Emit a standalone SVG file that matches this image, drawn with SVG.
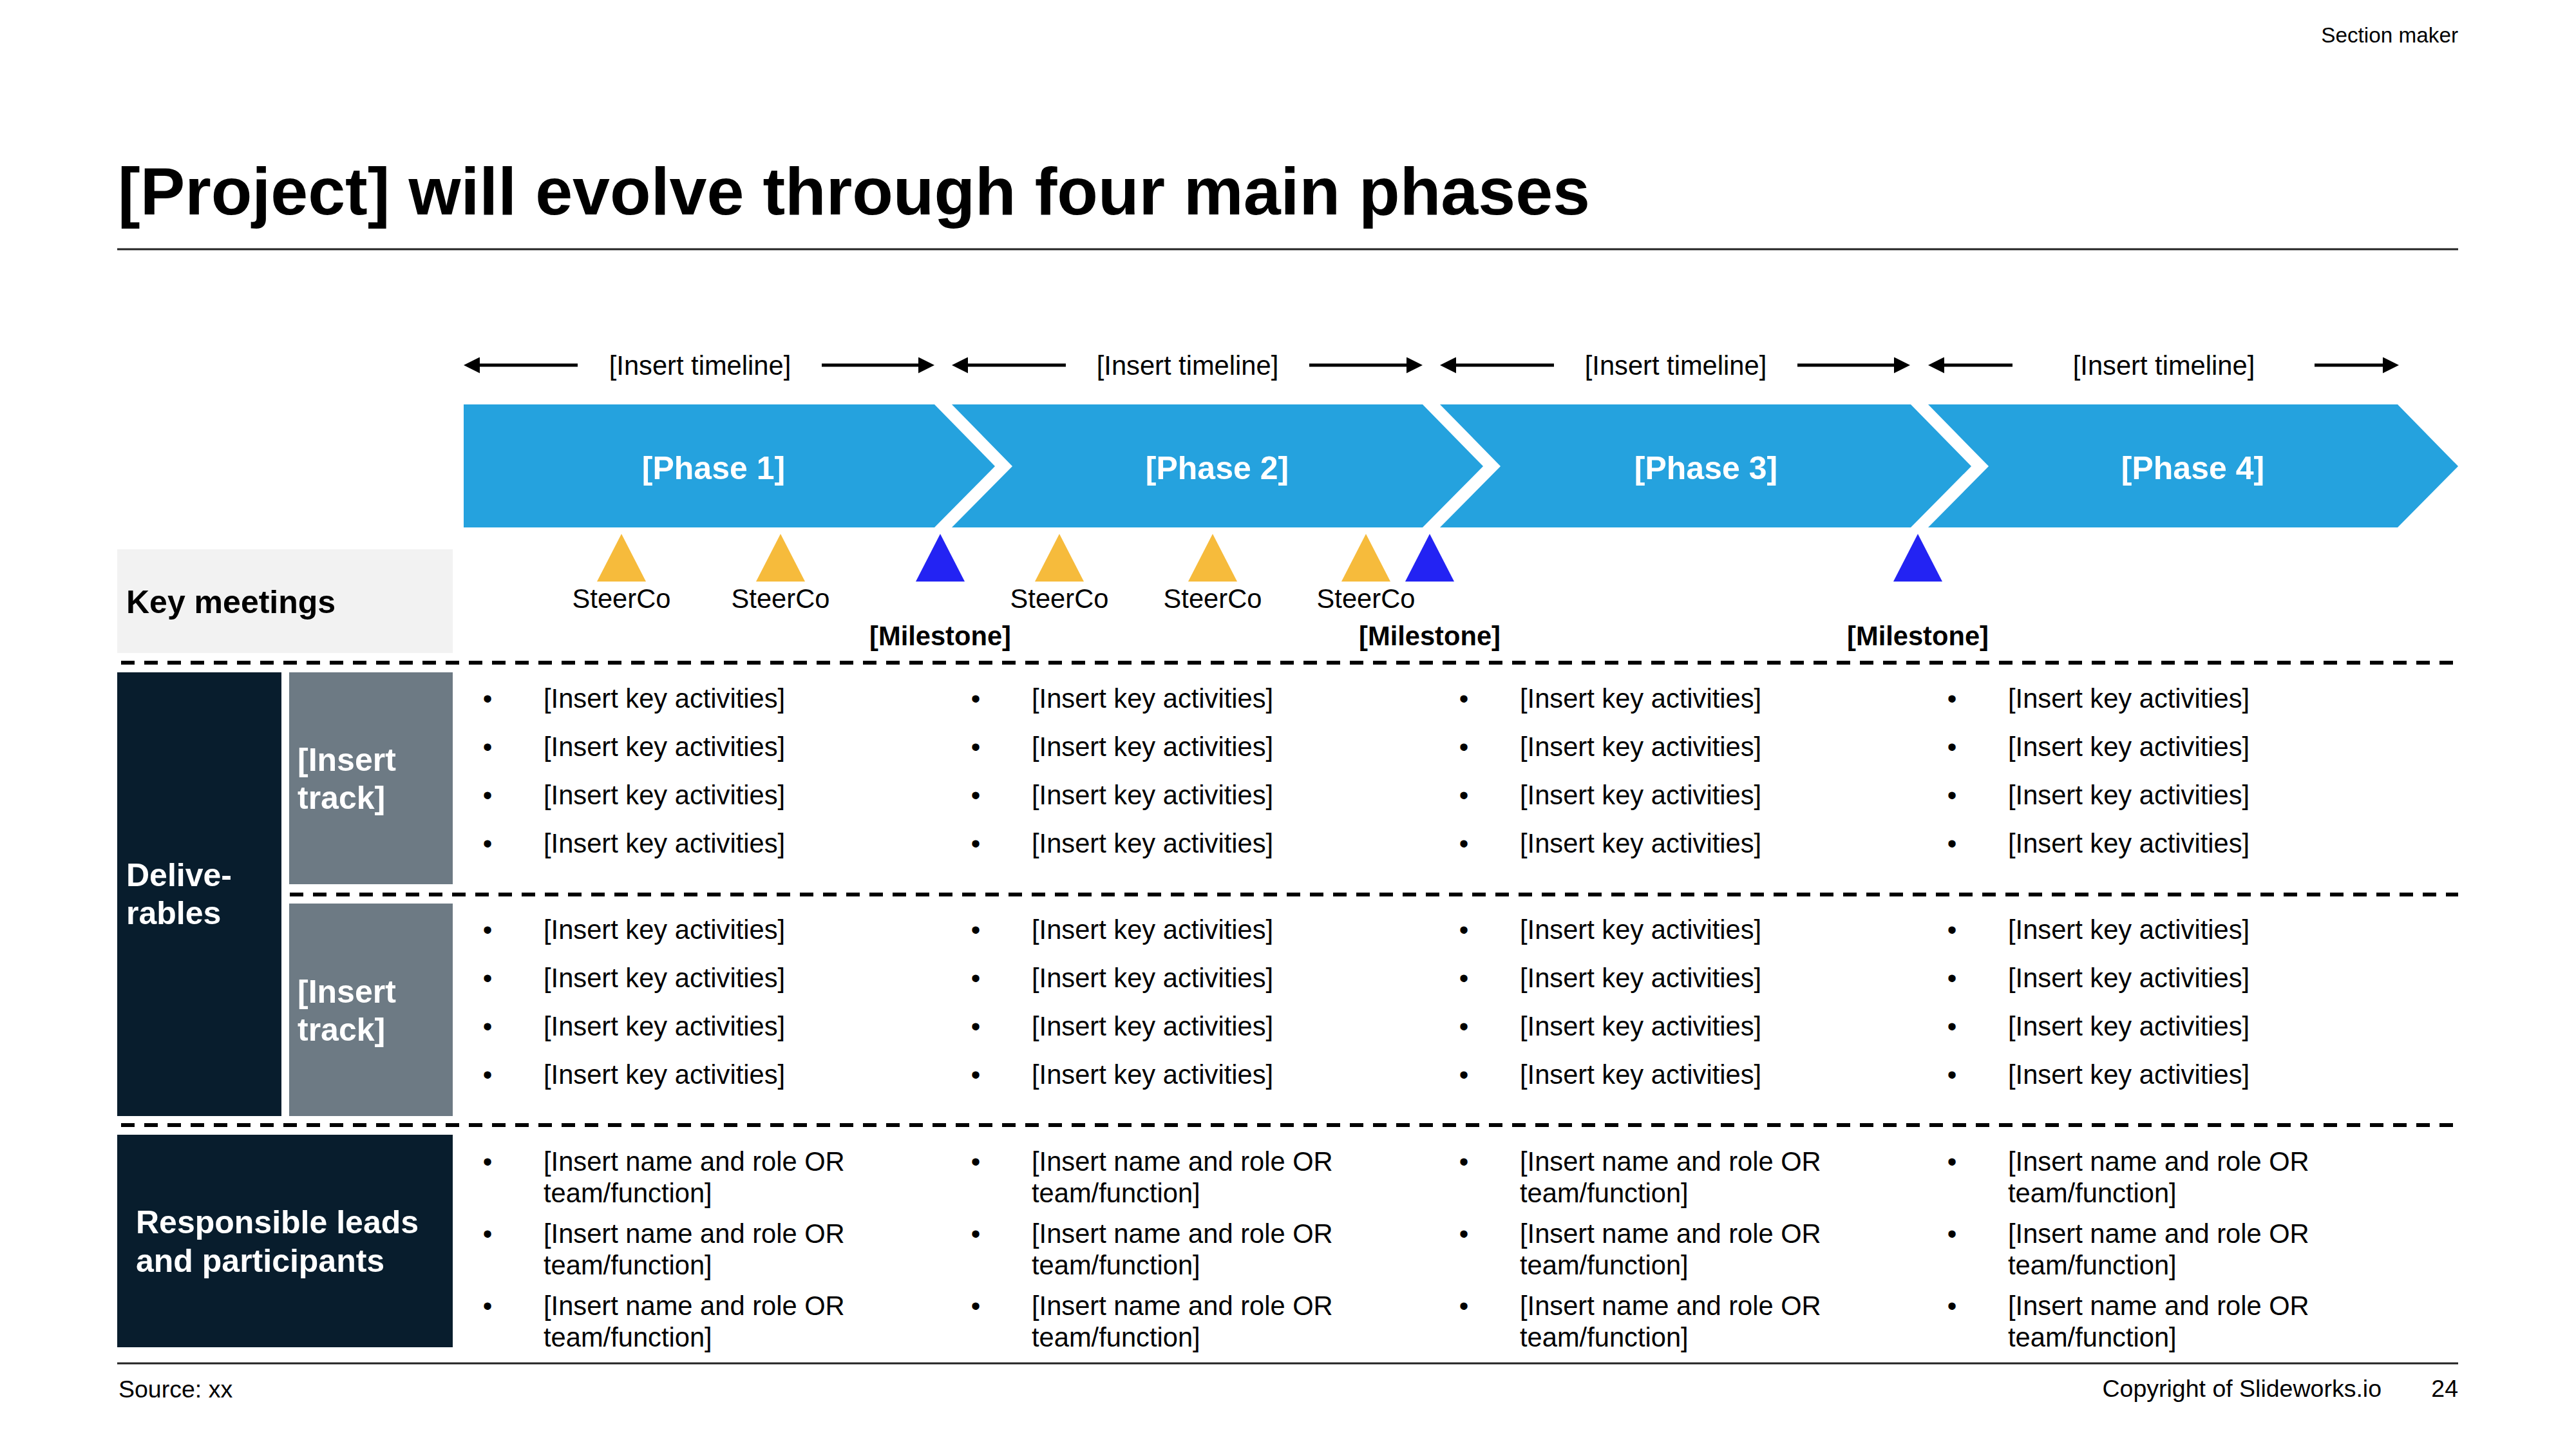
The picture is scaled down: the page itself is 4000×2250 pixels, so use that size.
<svg xmlns="http://www.w3.org/2000/svg" width="4000" height="2250" viewBox="0 0 4000 2250">
<defs>
<style>
text{font-family:"Liberation Sans",Arial,sans-serif;fill:#000}
.b{font-weight:bold}
.w{fill:#fff}
.t40{font-size:41.67px}
.t48{font-size:50px}
.mid{text-anchor:middle}
.end{text-anchor:end}
.phase{fill:#25A2DE}
.steer{fill:#F6BB3C}
.mile{fill:#2323F3}
.dash{stroke:#000;stroke-width:6;stroke-dasharray:21 15;fill:none}
.rule{stroke:#222;stroke-width:3;fill:none}
.arr{stroke:#000;stroke-width:5;fill:none;marker-end:url(#ah)}
</style>
<marker id="ah" viewBox="0 0 25 25" refX="5" refY="12.5" markerWidth="25" markerHeight="25" markerUnits="userSpaceOnUse" orient="auto">
<path d="M0,0 L25,12.5 L0,25 Z" fill="#000"/>
</marker>
</defs>
<rect width="4000" height="2250" fill="#fff"/>

<text x="3817" y="66" class="end" style="font-size:33.3px">Section maker</text>
<text x="183" y="333" class="b" style="font-size:104.17px">[Project] will evolve through four main phases</text>
<line x1="182" y1="387" x2="3817" y2="387" class="rule"/>

<g id="connectors">
<line x1="897" y1="567" x2="740" y2="567" class="arr"/>
<line x1="1276" y1="567" x2="1431" y2="567" class="arr"/>
<line x1="1655" y1="567" x2="1498" y2="567" class="arr"/>
<line x1="2033" y1="567" x2="2189" y2="567" class="arr"/>
<line x1="2413" y1="567" x2="2256" y2="567" class="arr"/>
<line x1="2791" y1="567" x2="2946" y2="567" class="arr"/>
<line x1="3125" y1="567" x2="3014" y2="567" class="arr"/>
<line x1="3594" y1="567" x2="3705" y2="567" class="arr"/>
</g>

<g id="timelines">
<text x="1087" y="582" class="mid t40">[Insert timeline]</text>
<text x="1844" y="582" class="mid t40">[Insert timeline]</text>
<text x="2602" y="582" class="mid t40">[Insert timeline]</text>
<text x="3360" y="582" class="mid t40">[Insert timeline]</text>
</g>

<g id="phase1">
<path class="phase" d="M720,628 L1451,628 L1545,724 L1451,819 L720,819 Z"/>
<text x="1108" y="744" class="b w t48 mid">[Phase 1]</text>
</g>
<g id="phase2">
<path class="phase" d="M1478,628 L2209,628 L2303,724 L2209,819 L1478,819 L1572,724 Z"/>
<text x="1890" y="744" class="b w t48 mid">[Phase 2]</text>
</g>
<g id="phase3">
<path class="phase" d="M2236,628 L2967,628 L3061,724 L2967,819 L2236,819 L2330,724 Z"/>
<text x="2649" y="744" class="b w t48 mid">[Phase 3]</text>
</g>
<g id="phase4">
<path class="phase" d="M2994,628 L3723,628 L3817,724 L3723,819 L2994,819 L3088,724 Z"/>
<text x="3405" y="744" class="b w t48 mid">[Phase 4]</text>
</g>

<g id="key-meetings">
<rect x="182" y="853" width="521" height="161" fill="#F2F2F2"/>
<text x="196" y="952" class="b t48">Key meetings</text>
</g>

<g id="meetings">
<path class="steer" d="M965,829 L1003,903 L927,903 Z"/>
<path class="steer" d="M1212,829 L1250,903 L1174,903 Z"/>
<path class="mile" d="M1460,829 L1498,903 L1422,903 Z"/>
<path class="steer" d="M1645,829 L1683,903 L1607,903 Z"/>
<path class="steer" d="M1883,829 L1921,903 L1845,903 Z"/>
<path class="steer" d="M2121,829 L2159,903 L2083,903 Z"/>
<path class="mile" d="M2220,829 L2258,903 L2182,903 Z"/>
<path class="mile" d="M2978,829 L3016,903 L2940,903 Z"/>
<text x="965" y="944" class="mid t40">SteerCo</text>
<text x="1212" y="944" class="mid t40">SteerCo</text>
<text x="1645" y="944" class="mid t40">SteerCo</text>
<text x="1883" y="944" class="mid t40">SteerCo</text>
<text x="2121" y="944" class="mid t40">SteerCo</text>
<text x="1460" y="1002" class="mid b t40">[Milestone]</text>
<text x="2220" y="1002" class="mid b t40">[Milestone]</text>
<text x="2978" y="1002" class="mid b t40">[Milestone]</text>
</g>

<g id="separators">
<line x1="188" y1="1029" x2="3817" y2="1029" class="dash"/>
<line x1="450" y1="1389" x2="3817" y2="1389" class="dash"/>
<line x1="188" y1="1747" x2="3817" y2="1747" class="dash"/>
</g>

<g id="deliverables">
<rect x="182" y="1044" width="255" height="689" fill="#081D2D"/>
<text x="196" y="1376" class="b w t48">Delive-</text>
<text x="196" y="1435" class="b w t48">rables</text>
</g>
<g id="track1">
<rect x="449" y="1044" width="254" height="329" fill="#6D7A84"/>
<text x="462" y="1197" class="b w t48">[Insert</text>
<text x="462" y="1256" class="b w t48">track]</text>
</g>
<g id="track2">
<rect x="449" y="1403" width="254" height="330" fill="#6D7A84"/>
<text x="462" y="1557" class="b w t48">[Insert</text>
<text x="462" y="1616" class="b w t48">track]</text>
</g>
<g id="responsible">
<rect x="182" y="1762" width="521" height="330" fill="#081D2D"/>
<text x="211" y="1915" class="b w t48">Responsible leads</text>
<text x="211" y="1975" class="b w t48">and participants</text>
</g>

<g id="activities">
<g id="col1">
<text x="757" y="1099" class="mid t40">•</text><text x="844" y="1099" class="t40">[Insert key activities]</text>
<text x="757" y="1174" class="mid t40">•</text><text x="844" y="1174" class="t40">[Insert key activities]</text>
<text x="757" y="1249" class="mid t40">•</text><text x="844" y="1249" class="t40">[Insert key activities]</text>
<text x="757" y="1324" class="mid t40">•</text><text x="844" y="1324" class="t40">[Insert key activities]</text>
<text x="757" y="1458" class="mid t40">•</text><text x="844" y="1458" class="t40">[Insert key activities]</text>
<text x="757" y="1533" class="mid t40">•</text><text x="844" y="1533" class="t40">[Insert key activities]</text>
<text x="757" y="1608" class="mid t40">•</text><text x="844" y="1608" class="t40">[Insert key activities]</text>
<text x="757" y="1683" class="mid t40">•</text><text x="844" y="1683" class="t40">[Insert key activities]</text>
<text x="757" y="1818" class="mid t40">•</text><text x="844" y="1818" class="t40">[Insert name and role OR</text><text x="844" y="1867" class="t40">team/function]</text>
<text x="757" y="1930" class="mid t40">•</text><text x="844" y="1930" class="t40">[Insert name and role OR</text><text x="844" y="1979" class="t40">team/function]</text>
<text x="757" y="2042" class="mid t40">•</text><text x="844" y="2042" class="t40">[Insert name and role OR</text><text x="844" y="2091" class="t40">team/function]</text>
</g>
<g id="col2">
<text x="1515" y="1099" class="mid t40">•</text><text x="1602" y="1099" class="t40">[Insert key activities]</text>
<text x="1515" y="1174" class="mid t40">•</text><text x="1602" y="1174" class="t40">[Insert key activities]</text>
<text x="1515" y="1249" class="mid t40">•</text><text x="1602" y="1249" class="t40">[Insert key activities]</text>
<text x="1515" y="1324" class="mid t40">•</text><text x="1602" y="1324" class="t40">[Insert key activities]</text>
<text x="1515" y="1458" class="mid t40">•</text><text x="1602" y="1458" class="t40">[Insert key activities]</text>
<text x="1515" y="1533" class="mid t40">•</text><text x="1602" y="1533" class="t40">[Insert key activities]</text>
<text x="1515" y="1608" class="mid t40">•</text><text x="1602" y="1608" class="t40">[Insert key activities]</text>
<text x="1515" y="1683" class="mid t40">•</text><text x="1602" y="1683" class="t40">[Insert key activities]</text>
<text x="1515" y="1818" class="mid t40">•</text><text x="1602" y="1818" class="t40">[Insert name and role OR</text><text x="1602" y="1867" class="t40">team/function]</text>
<text x="1515" y="1930" class="mid t40">•</text><text x="1602" y="1930" class="t40">[Insert name and role OR</text><text x="1602" y="1979" class="t40">team/function]</text>
<text x="1515" y="2042" class="mid t40">•</text><text x="1602" y="2042" class="t40">[Insert name and role OR</text><text x="1602" y="2091" class="t40">team/function]</text>
</g>
<g id="col3">
<text x="2273" y="1099" class="mid t40">•</text><text x="2360" y="1099" class="t40">[Insert key activities]</text>
<text x="2273" y="1174" class="mid t40">•</text><text x="2360" y="1174" class="t40">[Insert key activities]</text>
<text x="2273" y="1249" class="mid t40">•</text><text x="2360" y="1249" class="t40">[Insert key activities]</text>
<text x="2273" y="1324" class="mid t40">•</text><text x="2360" y="1324" class="t40">[Insert key activities]</text>
<text x="2273" y="1458" class="mid t40">•</text><text x="2360" y="1458" class="t40">[Insert key activities]</text>
<text x="2273" y="1533" class="mid t40">•</text><text x="2360" y="1533" class="t40">[Insert key activities]</text>
<text x="2273" y="1608" class="mid t40">•</text><text x="2360" y="1608" class="t40">[Insert key activities]</text>
<text x="2273" y="1683" class="mid t40">•</text><text x="2360" y="1683" class="t40">[Insert key activities]</text>
<text x="2273" y="1818" class="mid t40">•</text><text x="2360" y="1818" class="t40">[Insert name and role OR</text><text x="2360" y="1867" class="t40">team/function]</text>
<text x="2273" y="1930" class="mid t40">•</text><text x="2360" y="1930" class="t40">[Insert name and role OR</text><text x="2360" y="1979" class="t40">team/function]</text>
<text x="2273" y="2042" class="mid t40">•</text><text x="2360" y="2042" class="t40">[Insert name and role OR</text><text x="2360" y="2091" class="t40">team/function]</text>
</g>
<g id="col4">
<text x="3031" y="1099" class="mid t40">•</text><text x="3118" y="1099" class="t40">[Insert key activities]</text>
<text x="3031" y="1174" class="mid t40">•</text><text x="3118" y="1174" class="t40">[Insert key activities]</text>
<text x="3031" y="1249" class="mid t40">•</text><text x="3118" y="1249" class="t40">[Insert key activities]</text>
<text x="3031" y="1324" class="mid t40">•</text><text x="3118" y="1324" class="t40">[Insert key activities]</text>
<text x="3031" y="1458" class="mid t40">•</text><text x="3118" y="1458" class="t40">[Insert key activities]</text>
<text x="3031" y="1533" class="mid t40">•</text><text x="3118" y="1533" class="t40">[Insert key activities]</text>
<text x="3031" y="1608" class="mid t40">•</text><text x="3118" y="1608" class="t40">[Insert key activities]</text>
<text x="3031" y="1683" class="mid t40">•</text><text x="3118" y="1683" class="t40">[Insert key activities]</text>
<text x="3031" y="1818" class="mid t40">•</text><text x="3118" y="1818" class="t40">[Insert name and role OR</text><text x="3118" y="1867" class="t40">team/function]</text>
<text x="3031" y="1930" class="mid t40">•</text><text x="3118" y="1930" class="t40">[Insert name and role OR</text><text x="3118" y="1979" class="t40">team/function]</text>
<text x="3031" y="2042" class="mid t40">•</text><text x="3118" y="2042" class="t40">[Insert name and role OR</text><text x="3118" y="2091" class="t40">team/function]</text>
</g>
</g>

<line x1="182" y1="2117" x2="3817" y2="2117" class="rule"/>
<text x="184" y="2170" style="font-size:37.5px">Source: xx</text>
<text x="3698" y="2169" class="end" style="font-size:37.5px">Copyright of Slideworks.io</text>
<text x="3817" y="2169" class="end" style="font-size:37.5px">24</text>
</svg>
